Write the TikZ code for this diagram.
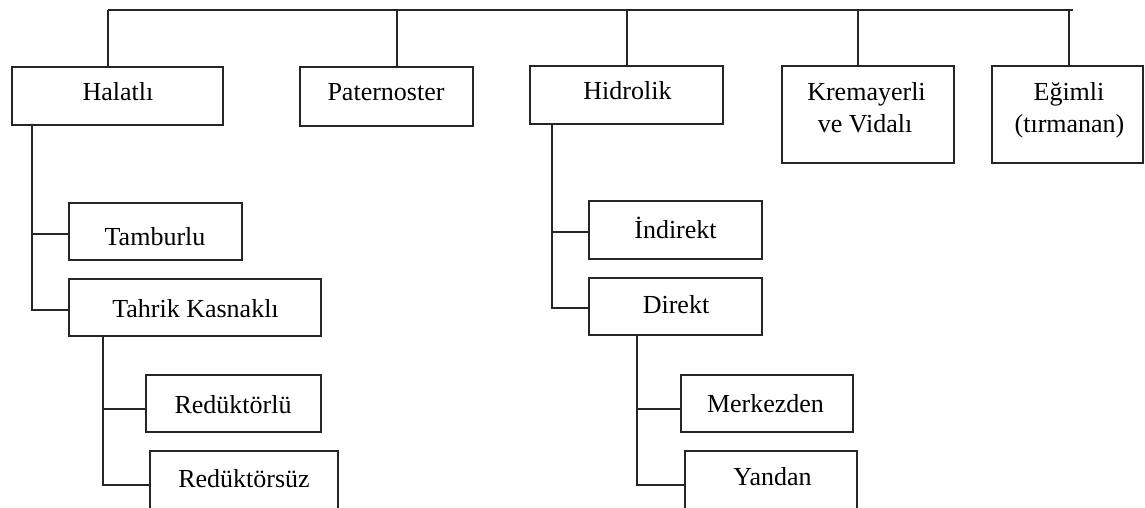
\documentclass[tikz,border=0pt]{standalone}
\usepackage{fontspec}
\setmainfont{Liberation Serif}
\begin{document}
\begin{tikzpicture}[x=1pt,y=-1pt,
  line/.style={draw=black!85,line width=1.6pt},
  box/.style={draw=black!85,line width=1.6pt,rectangle,inner sep=0pt,fill=white},
  txt/.style={inner sep=0pt,font=\fontsize{26}{30}\selectfont,anchor=base}]
\useasboundingbox (0,0) rectangle (1145,507);
\clip (0,0) rectangle (1145,507);
% boxes (centre, width, height)
\newcommand{\mybox}[5]{\node[box,minimum width=#3pt,minimum height=#4pt] (#1) at (#2) {};}
\mybox{hal}{117.5,96}{211}{58}{}
\mybox{pat}{386.5,96.5}{173}{59}{}
\mybox{hid}{626.5,95}{193}{58}{}
\mybox{kre}{868,114.5}{172}{97}{}
\mybox{egi}{1067.5,114.5}{151}{97}{}
\mybox{tam}{155.5,231.5}{173}{57}{}
\mybox{tah}{195,307.5}{252}{57}{}
\mybox{red1}{233.5,403.5}{175}{57}{}
\mybox{red2}{244,490.5}{188}{79}{}
\mybox{ind}{675.5,230}{173}{58}{}
\mybox{dir}{675.5,306.5}{173}{57}{}
\mybox{mer}{767,403.5}{172}{57}{}
\mybox{yan}{771,490.5}{172}{79}{}
% texts
\node[txt] (hal-t) at (118,100) {Halatlı};
\node[txt] (pat-t) at (386,100) {Paternoster};
\node[txt] (hid-t) at (627.5,99) {Hidrolik};
\node[txt] (kre-t1) at (866.5,100) {Kremayerli};
\node[txt] (kre-t2) at (865,132) {ve Vidalı};
\node[txt] (egi-t1) at (1069,100) {Eğimli};
\node[txt] (egi-t2) at (1069.5,132) {(tırmanan)};
\node[txt] (tam-t) at (155,245) {Tamburlu};
\node[txt] (tah-t) at (195.5,317) {Tahrik Kasnaklı};
\node[txt] (red1-t) at (233,413) {Redüktörlü};
\node[txt] (red2-t) at (244,487) {Redüktörsüz};
\node[txt] (ind-t) at (675.5,238) {İndirekt};
\node[txt] (dir-t) at (676,313) {Direkt};
\node[txt] (mer-t) at (765.5,412) {Merkezden};
\node[txt] (yan-t) at (772.5,485) {Yandan};
% top bar
\coordinate (tL) at (108,10);
\coordinate (tR) at (1073,10);
\coordinate (tP) at (397,10);
\coordinate (tH) at (627,10);
\coordinate (tK) at (858,10);
\coordinate (tE) at (1069,10);
\draw[line] (tL) -- (tR);
\draw[line] (tL) -- (tL |- hal.north);
\draw[line] (tP) -- (tP |- pat.north);
\draw[line] (tH) -- (tH |- hid.north);
\draw[line] (tK) -- (tK |- kre.north);
\draw[line] (tE) -- (tE |- egi.north);
% Halatli branch
\coordinate (hx) at (32,0);
\draw[line] (hx |- hal.south) -- (hx |- 0,310) -- (tah.west |- 0,310);
\draw[line] (hx |- 0,234) -- (tam.west |- 0,234);
% Tahrik branch
\coordinate (tx) at (103,0);
\draw[line] (tx |- tah.south) -- (tx |- 0,485) -- (red2.west |- 0,485);
\draw[line] (tx |- 0,409) -- (red1.west |- 0,409);
% Hidrolik branch
\coordinate (hdx) at (552,0);
\draw[line] (hdx |- hid.south) -- (hdx |- 0,308) -- (dir.west |- 0,308);
\draw[line] (hdx |- 0,232) -- (ind.west |- 0,232);
% Direkt branch
\coordinate (dx) at (637,0);
\draw[line] (dx |- dir.south) -- (dx |- 0,485) -- (yan.west |- 0,485);
\draw[line] (dx |- 0,409) -- (mer.west |- 0,409);
\end{tikzpicture}
\end{document}
